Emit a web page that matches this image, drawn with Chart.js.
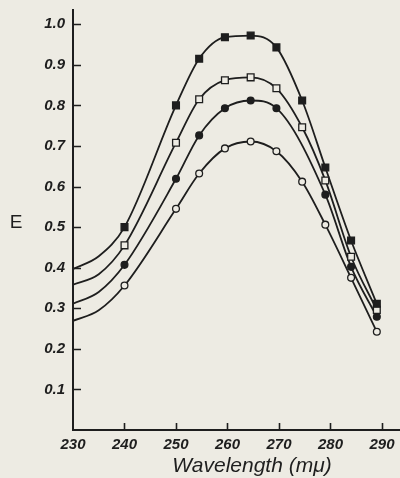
<!DOCTYPE html>
<html><head><meta charset="utf-8">
<script src="https://cdn.jsdelivr.net/npm/chart.js@4"></script>
<style>html,body{margin:0;padding:0;background:#edebe3;}canvas{display:block}</style>
</head><body>
<canvas id="c" width="400" height="478"></canvas>
<script>
// Wavelength (mμ) of each reading; the first two readings of every curve carry no marker
const wavelengths = [230, 235, 240, 250, 254.5, 259.5, 264.5, 269.5, 274.5, 279, 284, 289];
const wavelengthsC = [230, 235, 240, 250, 254.5, 259.5, 264.5, 269.5, 279, 284, 289];
// Extinction E of the four curves (top to bottom)
const seriesFilledSquare = [0.397, 0.428, 0.50, 0.80, 0.915, 0.968, 0.972, 0.943, 0.812, 0.647, 0.467, 0.311];
const seriesOpenSquare   = [0.358, 0.384, 0.455, 0.708, 0.815, 0.862, 0.869, 0.842, 0.746, 0.615, 0.427, 0.296];
const seriesFilledCircle = [0.311, 0.340, 0.407, 0.619, 0.726, 0.793, 0.812, 0.793, 0.580, 0.402, 0.279];
const seriesOpenCircle   = [0.269, 0.295, 0.356, 0.545, 0.632, 0.694, 0.711, 0.687, 0.612, 0.506, 0.375, 0.242];
const unmarkedCount = 2;
const xTickValues = [230, 240, 250, 260, 270, 280, 290];
const yTickValues = [0.1, 0.2, 0.3, 0.4, 0.5, 0.6, 0.7, 0.8, 0.9, 1.0];
const xTitle = 'Wavelength (mμ)';
const yTitle = 'E';

const PAPER = '#edebe3';
const INK = '#1e1e1e';

function makeSet(xs, ys, style, filled) {
  return {
    data: xs.map((x, i) => ({x: x, y: ys[i]})),
    borderColor: INK,
    borderWidth: 1.8,
    pointStyle: style,
    pointRadius: xs.map((x, i) => i < unmarkedCount ? 0 : (style === 'rect' ? 4.8 : 3.4)),
    pointBackgroundColor: filled ? INK : PAPER,
    pointBorderColor: INK,
    pointBorderWidth: 1.3,
    cubicInterpolationMode: 'monotone',
    fill: false
  };
}

const paperPlugin = {
  id: 'paper',
  beforeDraw(chart) {
    const c = chart.ctx;
    c.save(); c.fillStyle = PAPER; c.fillRect(0, 0, chart.width, chart.height); c.restore();
  },
  afterDraw(chart) {
    const c = chart.ctx, a = chart.chartArea;
    const xs = chart.scales.x, ys = chart.scales.y;
    c.save();
    c.strokeStyle = INK; c.lineWidth = 1.6;
    c.beginPath();
    yTickValues.forEach(v => { const y = Math.round(ys.getPixelForValue(v)) + 0.5; c.moveTo(a.left, y); c.lineTo(a.left + 8, y); });
    xTickValues.slice(1).forEach(v => { const x = Math.round(xs.getPixelForValue(v)) + 0.5; c.moveTo(x, a.bottom); c.lineTo(x, a.bottom - 7); });
    c.stroke();
    c.fillStyle = INK;
    c.textAlign = 'center'; c.textBaseline = 'middle';
    c.font = '19px "Liberation Sans", sans-serif';
    c.fillText(yTitle, 16, ys.getPixelForValue(0.51));
    c.font = 'italic 21px "Liberation Sans", sans-serif';
    c.textBaseline = 'alphabetic';
    c.fillText(xTitle, 252, 472);
    c.restore();
  }
};

const tickFont = {family: '"Liberation Sans", sans-serif', size: 15, style: 'italic', weight: 'bold'};

new Chart(document.getElementById('c'), {
  type: 'line',
  data: {datasets: [
    makeSet(wavelengths, seriesFilledSquare, 'rect', true),
    makeSet(wavelengths, seriesOpenSquare, 'rect', false),
    makeSet(wavelengthsC, seriesFilledCircle, 'circle', true),
    makeSet(wavelengths, seriesOpenCircle, 'circle', false)
  ]},
  options: {
    responsive: false,
    animation: false,
    layout: {autoPadding: false, padding: {top: 10, left: 0, right: 0, bottom: 0}},
    plugins: {legend: {display: false}, tooltip: {enabled: false}},
    scales: {
      x: {
        type: 'linear', min: 230, max: 293.5,
        afterBuildTicks: s => { s.ticks = xTickValues.map(v => ({value: v})); },
        afterFit: s => { s.height = 48; s.paddingLeft = 0; s.paddingRight = 0; },
        grid: {display: true, drawOnChartArea: false, drawTicks: false},
        border: {display: true, color: INK, width: 2},
        ticks: {color: INK, font: tickFont, padding: 6, maxRotation: 0, autoSkip: false, callback: v => String(v)}
      },
      y: {
        type: 'linear', min: 0, max: 1.035,
        afterBuildTicks: s => { s.ticks = yTickValues.map(v => ({value: v})); },
        afterFit: s => { s.width = 73; s.paddingTop = 0; s.paddingBottom = 0; },
        grid: {display: true, drawOnChartArea: false, drawTicks: false},
        border: {display: true, color: INK, width: 2},
        ticks: {color: INK, font: tickFont, padding: 8, autoSkip: false, callback: v => v.toFixed(1)}
      }
    }
  },
  plugins: [paperPlugin]
});
</script>
</body></html>
